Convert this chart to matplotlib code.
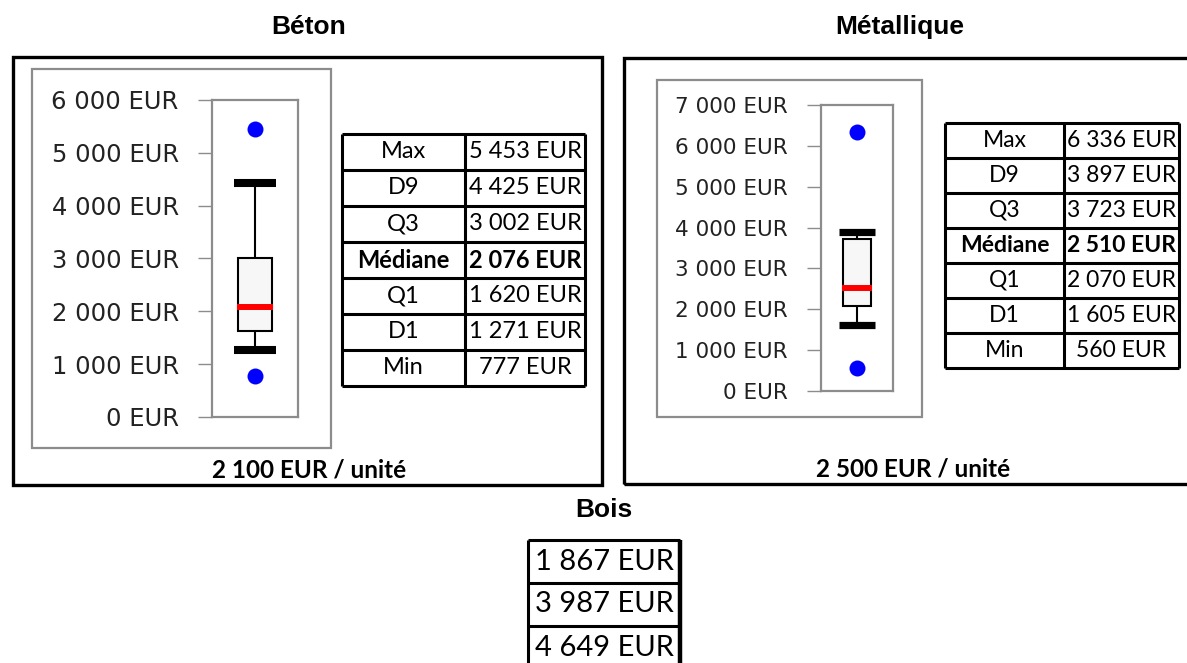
# Boxplots des coûts par unité : Béton / Métallique, plus tableau Bois

import matplotlib
matplotlib.use("Agg")
import matplotlib.pyplot as plt
from matplotlib.patches import Rectangle
from matplotlib.ticker import FuncFormatter, MultipleLocator

# --- data ---
stat_labels = ["Max", "D9", "Q3", "Médiane", "Q1", "D1", "Min"]
beton_values = [5453, 4425, 3002, 2076, 1620, 1271, 777]
metal_values = [6336, 3897, 3723, 2510, 2070, 1605, 560]
bois_values = [1867, 3987, 4649]

beton_unit_price = 2100
metal_unit_price = 2500
beton_ymax = 6000
metal_ymax = 7000

W, H = 1187, 663
TABLE_FONT = "Lato"
TICK_COLOR = "#222222"
GRAY = "#8c8c8c"


def eur(v):
    return f"{v:,}".replace(",", " ") + " EUR"


def px_box(x0, y0, x1, y1):
    # pixel box (top-left origin) -> figure fraction [l, b, w, h]
    return [x0 / W, 1 - y1 / H, (x1 - x0) / W, (y1 - y0) / H]


def frame(fig, x0, y0, x1, y1, color, lw):
    fig.add_artist(Rectangle((x0 / W, 1 - y1 / H), (x1 - x0) / W, (y1 - y0) / H,
                             transform=fig.transFigure, fill=False,
                             edgecolor=color, linewidth=lw))


def ftext(fig, x, y, s, **kw):
    fig.text(x / W, 1 - y / H, s, ha="center", va="center", **kw)


def draw_box(ax, vals, ymax, tick_size, cap_lw):
    vmax, d9, q3, med, q1, d1, vmin = vals
    ax.set_xlim(-1, 1)
    ax.set_ylim(0, ymax)
    ax.yaxis.set_major_locator(MultipleLocator(1000))
    ax.yaxis.set_major_formatter(FuncFormatter(lambda v, p: eur(int(v))))
    ax.set_xticks([])
    ax.tick_params(axis="y", length=10, width=1, color=GRAY, pad=14,
                   labelsize=tick_size, labelcolor=TICK_COLOR)
    for s in ax.spines.values():
        s.set_color(GRAY)
        s.set_linewidth(1.6)

    ax.vlines(0, q3, d9, color="black", lw=1.5, zorder=2)
    ax.vlines(0, d1, q1, color="black", lw=1.5, zorder=2)
    ax.bar(0, q3 - q1, bottom=q1, width=0.8, color="#f7f7f7",
           edgecolor="black", linewidth=1.5, zorder=3)
    ax.hlines(med, -0.42, 0.42, color="#ff0000", lw=4.3, zorder=4)
    ax.hlines([d9, d1], -0.5, 0.5, color="black", lw=cap_lw, zorder=4)
    ax.plot([0, 0], [vmax, vmin], "o", color="#0000ff", ms=11.5, mec="none",
            zorder=5)


def draw_table(fig, x0, xm, x1, y0, y1, labels, values, fsize):
    n = len(values)
    ax = fig.add_axes(px_box(x0, y0, x1, y1))
    ax.set_xlim(x0, x1)
    ax.set_ylim(n, 0)
    ax.axis("off")
    ax.hlines(range(n + 1), x0, x1, color="black", lw=2.2, clip_on=False)
    ax.vlines([x0, xm, x1], 0, n, color="black", lw=2.2, clip_on=False)
    for i, (lab, v) in enumerate(zip(labels, values)):
        weight = "bold" if lab == "Médiane" else "normal"
        ax.text((x0 + xm) / 2, i + 0.5, lab, ha="center", va="center",
                fontsize=fsize, fontweight=weight, family=TABLE_FONT)
        ax.text((xm + x1) / 2, i + 0.5, eur(v), ha="center", va="center",
                fontsize=fsize, fontweight=weight, family=TABLE_FONT)


fig = plt.figure(figsize=(W / 100, H / 100), dpi=100)

# titles
ftext(fig, 309, 27, "Béton", fontsize=19, fontweight="bold", family="Liberation Sans")
ftext(fig, 900, 27, "Métallique", fontsize=19, fontweight="bold", family="Liberation Sans")
ftext(fig, 604, 510, "Bois", fontsize=19, fontweight="bold", family="Liberation Sans")

# outer black frames
frame(fig, 13, 57, 602, 485, "black", 2.4)
frame(fig, 624, 58, 1200, 484, "black", 2.4)

# gray chart areas
frame(fig, 32, 69, 331, 448, GRAY, 1.6)
frame(fig, 657, 80, 922, 417, GRAY, 1.6)

# Béton boxplot
ax1 = fig.add_axes(px_box(212, 100, 298, 417))
draw_box(ax1, beton_values, beton_ymax, 17.5, 5.8)

# Métallique boxplot
ax2 = fig.add_axes(px_box(821, 105, 893, 391))
draw_box(ax2, metal_values, metal_ymax, 15.5, 5.2)

# stat tables
draw_table(fig, 342, 465, 585, 134, 386, stat_labels, beton_values, 17)
draw_table(fig, 945, 1064, 1179, 123, 368, stat_labels, metal_values, 16.5)

# prix unitaire
ftext(fig, 309, 470, eur(beton_unit_price) + " / unité", fontsize=17.5,
      fontweight="bold", family=TABLE_FONT)
ftext(fig, 913, 469, eur(metal_unit_price) + " / unité", fontsize=17.5,
      fontweight="bold", family=TABLE_FONT)

# Bois table (single column, cut off at bottom)
row_h = 43
axb = fig.add_axes(px_box(528, 540, 680, 540 + row_h * len(bois_values)))
axb.set_xlim(0, 1)
axb.set_ylim(len(bois_values), 0)
axb.axis("off")
axb.hlines(range(len(bois_values) + 1), 0, 1, color="black", lw=2.2, clip_on=False)
axb.vlines(0, 0, len(bois_values), color="black", lw=2.2, clip_on=False)
axb.vlines(1, 0, len(bois_values), color="black", lw=3.2, clip_on=False)
for i, v in enumerate(bois_values):
    axb.text(0.5, i + 0.5, eur(v), ha="center", va="center", fontsize=21,
             family=TABLE_FONT)

fig.savefig("out.png", dpi=100)
